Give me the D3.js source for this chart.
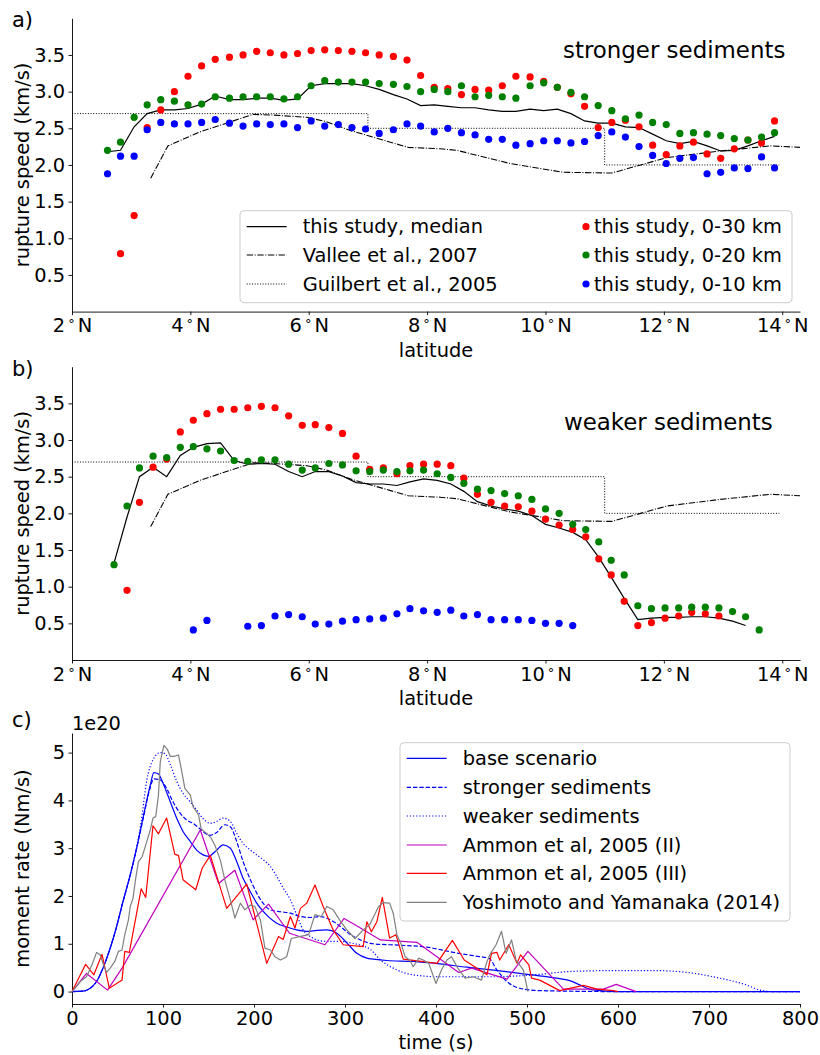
<!DOCTYPE html>
<html><head><meta charset="utf-8">
<script src="https://cdn.jsdelivr.net/npm/d3@7"></script>
<style>
body{margin:0;background:#fff}
svg text{font-family:"DejaVu Sans",sans-serif;fill:#000}
</style>
</head><body>
<svg id="chart" width="820" height="1055"></svg>
<script>
// ---------------- DATA ----------------
// panel a (stronger sediments)
const latA = [2.60,2.82,3.05,3.27,3.50,3.73,3.96,4.19,4.42,4.66,4.89,5.12,5.35,5.58,5.81,6.04,6.27,6.50,6.73,6.96,7.19,7.43,7.66,7.89,8.12,8.35,8.58,8.81,9.04,9.27,9.50,9.74,9.97,10.20,10.43,10.66,10.89,11.12,11.35,11.58,11.81,12.04,12.27,12.50,12.73,12.96,13.19,13.42,13.65,13.87];
const red30A = [null,0.79,1.31,2.51,2.75,3.00,3.21,3.35,3.44,3.47,3.50,3.55,3.53,3.50,3.52,3.56,3.57,3.56,3.55,3.53,3.50,3.48,3.43,3.22,3.06,3.04,2.96,3.03,3.02,3.08,3.21,3.20,3.14,3.06,2.97,2.80,2.51,2.58,2.61,2.52,2.27,2.14,2.26,2.31,2.15,2.09,2.22,2.34,2.30,2.60];
const green20A = [2.20,2.31,2.65,2.82,2.89,2.87,2.82,2.83,2.93,2.91,2.93,2.93,2.93,2.90,2.93,3.08,3.15,3.13,3.13,3.13,3.11,3.10,3.07,3.00,3.03,3.00,3.08,2.93,2.95,2.93,2.91,3.08,3.12,3.06,2.99,2.93,2.81,2.74,2.63,2.68,2.58,2.55,2.43,2.44,2.42,2.40,2.36,2.34,2.38,2.44];
const blue10A = [1.88,2.12,2.12,2.48,2.58,2.56,2.56,2.58,2.62,2.57,2.53,2.56,2.55,2.56,2.51,2.60,2.53,2.55,2.51,2.49,2.43,2.48,2.56,2.53,2.45,2.50,2.44,2.41,2.35,2.35,2.27,2.29,2.33,2.33,2.30,2.32,2.40,2.45,2.38,2.25,2.13,2.02,2.09,2.10,1.88,1.90,1.96,1.95,2.11,1.96];
const medianA = [2.18,2.20,2.52,2.70,2.75,2.75,2.77,2.83,2.94,2.89,2.89,2.91,2.91,2.88,2.90,3.08,3.11,3.11,3.11,3.08,3.03,2.96,2.90,2.81,2.82,2.80,2.78,2.78,2.75,2.73,2.73,2.76,2.74,2.76,2.70,2.60,2.57,2.57,2.52,2.51,2.42,2.33,2.29,2.32,2.26,2.19,2.20,2.26,2.33,2.39];

// panel b (weaker sediments)
const latB = [2.71,2.93,3.14,3.37,3.60,3.83,4.05,4.28,4.51,4.74,4.97,5.20,5.43,5.66,5.89,6.11,6.34,6.57,6.80,7.03,7.26,7.49,7.71,7.94,8.17,8.40,8.62,8.85,9.08,9.31,9.54,9.77,10.00,10.23,10.46,10.68,10.90,11.11,11.33,11.56,11.79,12.02,12.25,12.47,12.70,12.93,13.16,13.38,13.61];
const red30B = [null,0.95,2.15,2.63,2.74,3.11,3.27,3.36,3.42,3.42,3.44,3.46,3.44,3.33,3.20,3.21,3.17,3.09,2.78,2.60,2.62,2.54,2.65,2.67,2.67,2.65,2.48,2.26,2.15,2.10,2.09,2.03,1.92,1.84,1.78,1.68,1.38,1.16,0.80,0.47,0.51,0.57,0.60,0.65,0.63,0.60,null,null,null];
const green20B = [1.30,2.10,2.62,2.78,2.76,2.90,2.91,2.88,2.85,2.72,2.71,2.73,2.73,2.67,2.59,2.62,2.68,2.66,2.58,2.57,2.59,2.57,2.58,2.59,2.54,2.49,2.41,2.33,2.31,2.27,2.24,2.19,2.06,2.00,1.85,1.78,1.61,1.36,1.16,0.74,0.70,0.71,0.71,0.72,0.72,0.71,0.66,0.59,0.41];
const blue10B = [null,null,null,null,null,null,0.41,0.54,null,null,0.46,0.47,0.60,0.62,0.59,0.49,0.49,0.53,0.55,0.56,0.57,0.63,0.70,0.67,0.65,0.68,0.60,0.62,0.55,0.55,0.55,0.54,0.50,0.50,0.47,null,null,null,null,null,null,null,null,null,null,null,null,null,null];
const medianB = [1.32,1.95,2.50,2.63,2.50,2.79,2.90,2.95,2.96,2.72,2.67,2.68,2.67,2.57,2.50,2.57,2.57,2.51,2.42,2.40,2.40,2.38,2.43,2.47,2.45,2.40,2.30,2.16,2.10,2.06,2.03,1.97,1.85,1.80,1.74,1.64,1.40,1.13,0.84,0.55,0.57,0.58,0.58,0.59,0.59,0.57,0.53,0.47,null];

// reference models (both panels)
const valleeLat = [3.33,3.62,4.16,5.06,5.40,5.97,6.30,6.70,7.68,8.22,8.50,9.40,10.30,11.12,12.05,12.95,13.80,14.30];
const valleeSpeed = [1.82,2.26,2.45,2.69,2.68,2.65,2.59,2.47,2.24,2.22,2.20,2.02,1.90,1.89,2.10,2.19,2.26,2.24];
const guilbertLat = [2.0,7.0,11.0,13.95];
const guilbertSpeed = [2.7,2.5,2.0,2.0];

const latTicks = [2,4,6,8,10,12,14];
const speedTicks = [0.5,1.0,1.5,2.0,2.5,3.0,3.5];

// panel c (moment rate, units of 1e20 Nm/s)
const timeBase = [0,12,20,27,34,42,49,56,64,71,78,86,90,95,100,108,115,122,130,137,144,150,159,166,174,181,188,196,203,214,225,236,247,258,269,280,291,302,313,324,331,346,375,404,434,463,492,514,536,547,558,569,580,600,800];
const rateBase = [0,0.01,0.07,0.21,0.49,0.91,1.36,1.88,2.44,3.00,3.63,4.32,4.58,4.55,4.36,3.97,3.63,3.35,3.14,2.96,2.86,2.83,2.96,3.07,3.00,2.72,2.37,2.09,1.85,1.60,1.43,1.35,1.29,1.26,1.28,1.29,1.22,1.02,0.80,0.70,0.68,0.65,0.63,0.58,0.51,0.45,0.38,0.33,0.27,0.23,0.14,0.05,0.02,0,0];
const timeStrong = [0,12,20,27,34,42,49,56,64,71,78,85,90,97,104,111,119,126,133,141,148,152,159,168,174,181,188,196,203,210,218,229,240,251,262,273,284,295,306,317,331,360,390,419,448,458,467,478,492,514,600,800];
const rateStrong = [0,0.01,0.07,0.21,0.49,0.91,1.36,1.88,2.44,3.00,3.60,4.20,4.45,4.43,4.25,3.97,3.73,3.59,3.52,3.40,3.29,3.27,3.33,3.49,3.45,3.14,2.72,2.34,2.06,1.85,1.71,1.67,1.64,1.57,1.55,1.57,1.50,1.36,1.19,1.08,1.00,0.97,0.93,0.82,0.73,0.70,0.45,0.21,0.07,0.02,0,0];
const timeWeak = [0,12,20,27,34,42,49,56,64,71,76,82,89,97,102,108,115,122,130,137,144,152,159,166,174,181,188,196,203,210,218,225,232,240,247,254,262,269,280,295,306,317,328,339,353,375,404,463,514,547,602,639,676,712,741,756,770,800];
const rateWeak = [0,0.01,0.07,0.21,0.49,0.91,1.36,1.88,2.44,3.00,3.55,4.40,4.85,5.00,4.98,4.75,4.40,4.15,3.97,3.80,3.62,3.52,3.56,3.63,3.56,3.31,3.10,2.96,2.86,2.76,2.62,2.41,2.17,1.92,1.60,1.29,1.15,1.08,1.05,1.05,1.02,0.97,0.88,0.66,0.49,0.35,0.31,0.31,0.36,0.42,0.44,0.44,0.40,0.28,0.14,0.03,0,0];
const timeAmmon2 = [0,16,39,55,141,161,179,199,216,239,278,299,317,339,379,425,439,478,501,540,584,598,620];
const rateAmmon2 = [0,0.38,0.03,0.49,3.38,2.26,2.54,1.50,1.83,1.22,0.98,1.53,1.33,1.08,1.03,0.40,0.49,0.26,0.84,0.05,0.05,0.15,0];
const timeAmmon3 = [0,15,24,33,41,55,58,63,76,81,89,95,104,113,117,122,136,143,152,170,192,214,227,232,240,245,251,258,267,276,287,298,320,324,329,335,341,349,356,364,401,418,431,456,461,467,470,480,489,493,502,505,514,536,562,577,595,600];
const rateAmmon3 = [0,0.57,0.35,0.78,0.07,0.24,0.84,0.82,2.15,1.97,3.47,3.30,3.63,2.87,2.85,2.34,2.13,2.58,2.85,1.74,2.25,0.59,1.15,1.09,1.57,1.33,1.74,1.85,2.23,1.78,1.29,0.98,0.94,1.46,1.25,1.46,1.97,1.12,1.19,0.68,0.59,1.07,0.66,0.35,0.80,0.82,0.66,0.98,0.59,0.77,0.56,0.28,0.24,0.02,0.13,0.05,0.02,0];
const timeYoshi = [0,9,16,22,27,31,34,38,42,47,51,55,58,62,64,67,70,73,77,80,86,89,92,95,97,101,105,108,112,117,120,124,130,133,139,142,148,153,157,163,168,174,179,185,190,196,201,207,212,218,223,229,236,241,250,260,267,274,280,287,294,302,311,320,327,337,342,349,353,357,362,366,371,375,381,386,392,400,406,412,417,424,432,441,450,456,460,466,472,477,483,488,496,501];
const rateYoshi = [0,0.21,0.31,0.56,0.82,0.77,0.59,0.40,0.49,0.63,0.84,0.87,1.19,1.50,1.78,1.95,2.37,2.72,2.82,3.00,3.38,3.63,3.66,4.11,4.81,5.15,5.06,4.92,4.92,4.95,4.67,4.25,4.11,3.87,3.70,3.40,3.31,3.21,3.06,2.75,2.33,1.92,1.54,1.85,1.71,1.81,1.78,1.50,0.91,0.87,0.73,0.66,0.73,1.11,1.15,1.19,1.61,1.57,1.78,1.71,1.50,1.29,1.11,1.29,1.40,1.78,1.86,1.85,1.64,1.19,0.98,0.73,0.66,0.52,0.70,0.66,0.59,0.17,0.45,0.66,0.73,0.49,0.28,0.31,0.24,0.63,0.80,0.98,1.26,0.80,1.08,0.66,0.45,0];
const timeTicks = [0,100,200,300,400,500,600,700,800];
const rateTicks = [0,1,2,3,4,5];

// ---------------- DRAWING ----------------
const svg = d3.select("#chart");
const FS = 19.4;
const BLUE = "#0000ff", GREEN = "#008000", RED = "#ff0000", MAG = "#bf00bf", GRAY = "#808080";
const DASHDOT = "6.4,1.6,1,1.6", DOTTED = "1,1.65";

function styleAxis(g){
  g.selectAll("path.domain").attr("stroke","#000").attr("stroke-width",0.9);
  g.selectAll(".tick line").attr("stroke","#000").attr("stroke-width",0.9);
  g.selectAll(".tick text").attr("font-size",FS).attr("font-family","DejaVu Sans, sans-serif").attr("fill","#000");
}

function latPanel(cfg){
  const x = d3.scaleLinear().domain([2,14.3]).range([72,800]);
  const y = d3.scaleLinear().domain([0,4]).range([cfg.bottom, cfg.top]);
  const g = svg.append("g");

  const gx = g.append("g").attr("transform",`translate(0,${cfg.bottom})`)
    .call(d3.axisBottom(x).tickValues(latTicks).tickSize(3.5).tickSizeOuter(0).tickPadding(3.5));
  styleAxis(gx);
  gx.selectAll(".tick text").each(function(d){
    const t = d3.select(this); t.text(null);
    t.append("tspan").text(d);
    t.append("tspan").attr("dx",3).attr("dy",-4).attr("font-size",13).text("°");
    t.append("tspan").attr("dx",3).attr("dy",4).text("N");
  });
  const gy = g.append("g").attr("transform","translate(72,0)")
    .call(d3.axisLeft(y).tickValues(speedTicks).tickFormat(d3.format(".1f")).tickSize(3.5).tickSizeOuter(0).tickPadding(3.5));
  styleAxis(gy);

  g.append("text").attr("x",436).attr("y",cfg.bottom+45).attr("text-anchor","middle").attr("font-size",FS).text("latitude");
  g.append("text").attr("transform",`translate(29,${(cfg.top+cfg.bottom)/2}) rotate(-90)`).attr("text-anchor","middle").attr("font-size",FS).text("rupture speed (km/s)");
  g.append("text").attr("x",12).attr("y",cfg.top+9).attr("font-size",21).text(cfg.tag);
  g.append("text").attr("x",cfg.titleX).attr("y",cfg.titleY).attr("font-size",22.9).text(cfg.title);

  // Guilbert
  g.append("path").datum(guilbertLat.map((d,i)=>[d,guilbertSpeed[i]]))
    .attr("d",d3.line().x(d=>x(d[0])).y(d=>y(d[1])).curve(d3.curveStepAfter))
    .attr("fill","none").attr("stroke","#000").attr("stroke-width",1).attr("stroke-dasharray",DOTTED);
  // Vallee
  g.append("path").datum(valleeLat.map((d,i)=>[d,valleeSpeed[i]]))
    .attr("d",d3.line().x(d=>x(d[0])).y(d=>y(d[1])))
    .attr("fill","none").attr("stroke","#000").attr("stroke-width",1.1).attr("stroke-dasharray",DASHDOT);
  // median
  g.append("path").datum(cfg.lat.map((d,i)=>[d,cfg.median[i]]).filter(d=>d[1]!=null))
    .attr("d",d3.line().x(d=>x(d[0])).y(d=>y(d[1])))
    .attr("fill","none").attr("stroke","#000").attr("stroke-width",1.2);

  [[cfg.red,RED],[cfg.green,GREEN],[cfg.blue,BLUE]].forEach(([vals,col])=>{
    g.append("g").selectAll("circle")
      .data(cfg.lat.map((d,i)=>[d,vals[i]]).filter(d=>d[1]!=null))
      .join("circle").attr("cx",d=>x(d[0])).attr("cy",d=>y(d[1])).attr("r",3.6).attr("fill",col);
  });
  return g;
}

const gA = latPanel({top:18.3,bottom:311.6,tag:"a)",title:"stronger sediments",titleX:563,titleY:57.5,
  lat:latA,red:red30A,green:green20A,blue:blue10A,median:medianA});
latPanel({top:366.7,bottom:660,tag:"b)",title:"weaker sediments",titleX:564,titleY:430,
  lat:latB,red:red30B,green:green20B,blue:blue10B,median:medianB});

// legend a
{
  const lg = svg.append("g");
  lg.append("rect").attr("x",240).attr("y",210.7).attr("width",552).attr("height",92).attr("rx",4)
    .attr("fill","#fff").attr("fill-opacity",0.8).attr("stroke","#cccccc").attr("stroke-width",1);
  const rows = [226.7,255,284];
  const c1 = [["this study, median",null],["Vallee et al., 2007",DASHDOT],["Guilbert et al., 2005",DOTTED]];
  c1.forEach((e,i)=>{
    lg.append("line").attr("x1",246.7).attr("x2",286.7).attr("y1",rows[i]).attr("y2",rows[i])
      .attr("stroke","#000").attr("stroke-width",i===0?1.2:1.1).attr("stroke-dasharray",e[1]);
    lg.append("text").attr("x",302.7).attr("y",rows[i]).attr("dy","0.35em").attr("font-size",FS).text(e[0]);
  });
  const c2 = [["this study, 0-30 km",RED],["this study, 0-20 km",GREEN],["this study, 0-10 km",BLUE]];
  c2.forEach((e,i)=>{
    lg.append("circle").attr("cx",586).attr("cy",rows[i]).attr("r",3.6).attr("fill",e[1]);
    lg.append("text").attr("x",594).attr("y",rows[i]).attr("dy","0.35em").attr("font-size",FS).text(e[0]);
  });
}

// panel c
{
  const x = d3.scaleLinear().domain([0,800]).range([72,800]);
  const y = d3.scaleLinear().domain([-0.26,5.41]).range([1004,733]);
  const g = svg.append("g");
  const gx = g.append("g").attr("transform","translate(0,1004)")
    .call(d3.axisBottom(x).tickValues(timeTicks).tickFormat(d3.format("d")).tickSize(3.5).tickSizeOuter(0).tickPadding(3.5));
  styleAxis(gx);
  const gy = g.append("g").attr("transform","translate(72,0)")
    .call(d3.axisLeft(y).tickValues(rateTicks).tickFormat(d3.format("d")).tickSize(3.5).tickSizeOuter(0).tickPadding(3.5));
  styleAxis(gy);
  g.append("text").attr("x",436).attr("y",1049).attr("text-anchor","middle").attr("font-size",FS).text("time (s)");
  g.append("text").attr("transform",`translate(29,868.5) rotate(-90)`).attr("text-anchor","middle").attr("font-size",FS).text("moment rate (Nm/s)");
  g.append("text").attr("x",72).attr("y",730).attr("font-size",FS).text("1e20");
  g.append("text").attr("x",12).attr("y",727).attr("font-size",21).text("c)");

  const series = [
    {t:timeBase,v:rateBase,col:BLUE,dash:null,smooth:true,label:"base scenario"},
    {t:timeStrong,v:rateStrong,col:BLUE,dash:"4.4,1.9",smooth:true,label:"stronger sediments"},
    {t:timeWeak,v:rateWeak,col:BLUE,dash:"1.2,2",smooth:true,label:"weaker sediments"},
    {t:timeAmmon2,v:rateAmmon2,col:MAG,dash:null,smooth:false,label:"Ammon et al, 2005 (II)"},
    {t:timeAmmon3,v:rateAmmon3,col:RED,dash:null,smooth:false,label:"Ammon et al, 2005 (III)"},
    {t:timeYoshi,v:rateYoshi,col:GRAY,dash:null,smooth:false,label:"Yoshimoto and Yamanaka (2014)"}
  ];
  series.forEach(s=>{
    const line = d3.line().x(d=>x(d[0])).y(d=>y(d[1])).curve(s.smooth?d3.curveMonotoneX:d3.curveLinear);
    g.append("path").datum(s.t.map((d,i)=>[d,s.v[i]]))
      .attr("d",line).attr("fill","none").attr("stroke",s.col).attr("stroke-width",1.2)
      .attr("stroke-dasharray",s.dash).attr("stroke-linejoin","round");
  });

  const lg = svg.append("g");
  lg.append("rect").attr("x",400).attr("y",742.7).attr("width",390).attr("height",178.3).attr("rx",4)
    .attr("fill","#fff").attr("fill-opacity",0.8).attr("stroke","#cccccc").attr("stroke-width",1);
  const rows = [758.3,787.3,816,845,873.3,902.3];
  series.forEach((s,i)=>{
    lg.append("line").attr("x1",406.7).attr("x2",446.7).attr("y1",rows[i]).attr("y2",rows[i])
      .attr("stroke",s.col).attr("stroke-width",1.2).attr("stroke-dasharray",s.dash);
    lg.append("text").attr("x",462.7).attr("y",rows[i]).attr("dy","0.35em").attr("font-size",FS).text(s.label);
  });
}
</script>
</body></html>
